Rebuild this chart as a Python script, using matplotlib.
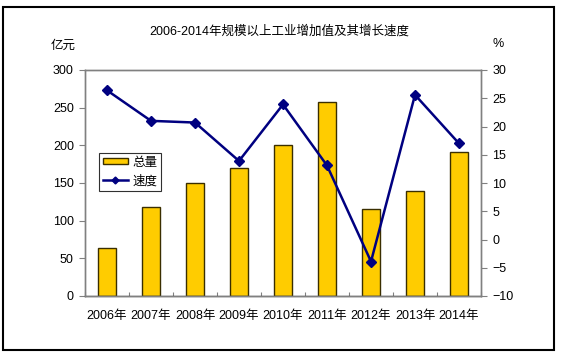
import matplotlib
matplotlib.use('Agg')
import matplotlib.pyplot as plt
import numpy as np
from matplotlib.patches import Rectangle

plt.rcParams['font.family'] = ['Liberation Sans', 'Noto Sans CJK SC']
plt.rcParams['font.size'] = 9

# data
years = ['2006年', '2007年', '2008年', '2009年', '2010年', '2011年', '2012年', '2013年', '2014年']
total = [64, 118.5, 149.5, 169.5, 201, 257, 116, 139.5, 191]      # 亿元
speed = [26.4, 21.0, 20.7, 13.9, 23.9, 13.1, -3.9, 25.6, 17.0]      # %

fig = plt.figure(figsize=(5.63, 3.54), dpi=100)
ax = fig.add_axes([85 / 563, 1 - 296 / 354, 396 / 563, 226 / 354])
ax2 = ax.twinx()

x = np.arange(len(years))
bars = ax.bar(x, total, width=0.41, color='#FFCC00', edgecolor='#3A2E00',
              linewidth=1.0, label='总量', zorder=2)
line, = ax2.plot(x, speed, color='#000080', linewidth=1.8, marker='D',
                 markersize=5, label='速度', zorder=3)

ax.set_xlim(-0.5, len(years) - 0.5)
ax.set_ylim(0, 300)
ax.set_yticks(range(0, 301, 50))
ax2.set_ylim(-10, 30)
ax2.set_yticks(range(-10, 31, 5))

# category labels at centres, small tick marks at boundaries
ax.set_xticks(np.arange(-0.5, len(years), 1))
ax.set_xticklabels([])
ax.set_xticks(x, minor=True)
ax.set_xticklabels(years, minor=True)
ax.tick_params(axis='x', which='minor', length=0, pad=10)
ax.tick_params(axis='x', which='major', length=3, color='#808080', direction='in')
ax.tick_params(axis='y', length=4, color='#808080', pad=4)
ax2.tick_params(axis='y', length=4, color='#808080', pad=4)

for a in (ax, ax2):
    for s in a.spines.values():
        s.set_color('#808080')
        s.set_linewidth(1.0)
ax.spines['bottom'].set_color('#404040')

leg = ax2.legend([bars, line], ['总量', '速度'], loc='upper left',
                 bbox_to_anchor=(0.035, 0.633), borderaxespad=0,
                 frameon=True, fancybox=False, edgecolor='#303030',
                 framealpha=1, borderpad=0.3, handlelength=2.0,
                 handleheight=0.4, handletextpad=0.4, labelspacing=0.5,
                 markerscale=0.7)
leg.get_frame().set_linewidth(0.8)

fig.text(279 / 563, 1 - 31 / 354, '2006-2014年规模以上工业增加值及其增长速度',
         ha='center', va='center', fontsize=9)
fig.text(63 / 563, 1 - 46 / 354, '亿元', ha='center', va='center', fontsize=9)
fig.text(498 / 563, 1 - 44 / 354, '%', ha='center', va='center', fontsize=9)

# outer frame
fig.patches.append(Rectangle((3 / 563, 1 - 350 / 354), 551 / 563, 343 / 354,
                             transform=fig.transFigure, fill=False,
                             edgecolor='black', linewidth=1.5))

fig.savefig('out.png', dpi=100)
